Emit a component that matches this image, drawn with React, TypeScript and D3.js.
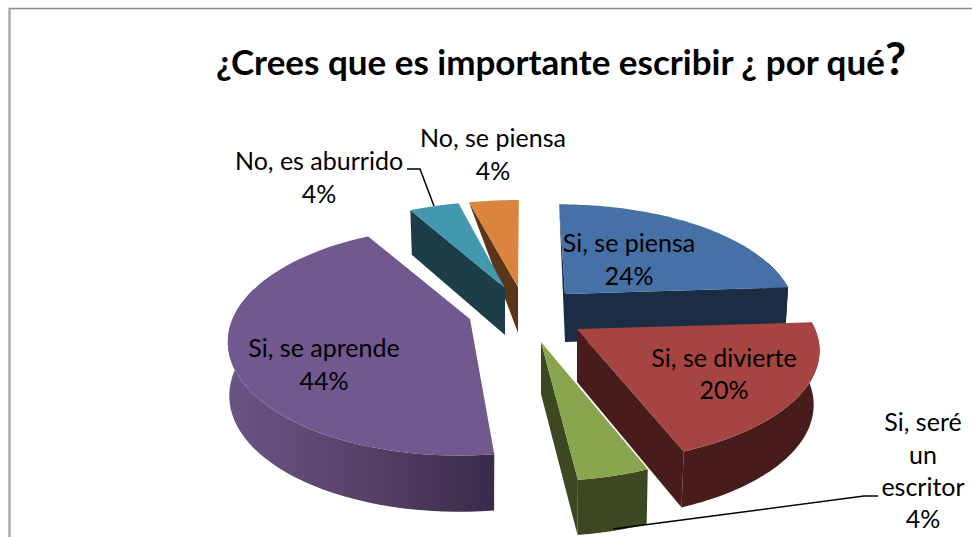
import React from 'react';
import * as d3 from 'd3';

const categories = ['Si, se piensa', 'Si, se divierte', 'Si, seré un escritor', 'Si, se aprende', 'No, es aburrido', 'No, se piensa'];
const percents = [24, 20, 4, 44, 4, 4];
const topColors = ['#4571A6', '#A64442', '#89A54E', '#71588F', '#4198AF', '#DB843D'];
const wallColors = ['#1B2D45', '#471C1B', '#3C4822', 'url(#purpleWall)', '#1B3E49', '#5A3518'];

// Exploded-slice placement of the 3D pie (apex on screen, lean, radius scales, wall height)
const apexX = [565, 577, 541, 470, 505, 518];
const apexY = [294, 329, 342, 319, 288, 287];
const leans = [-7, 0, 0, -9, 4, 1];
const radiusScale = [0.98, 1, 1, 0.96, 1, 1];
const radiusScaleY = [1, 1.01, 1.05, 1.03, 0.97, 0.97];
const wallHeights = [48, 53, 52, 53, 47, 46];
const wallInsets = [3, 6, 3, 1.5, 3, 3];
const startWalls = ['taper', 'none', 'none', 'none', 'full', 'taper'];
const endWalls = ['full', 'full', 'full', 'none', 'none', 'none'];
const drawOrder = [5, 4, 0, 3, 1, 2];

const RX = 238;
const RY = 107;
const PERSPECTIVE = 0.193;

const pieGen = d3.pie<number>().sort(null).startAngle(0).endAngle(2 * Math.PI);
const arcs = pieGen(percents);
const lineGen = d3.line<[number, number]>().x(d => d[0]).y(d => d[1]);

type P = [number, number];
function top(i: number, a: number): P {
  const u = Math.sin(a), v = Math.cos(a), f = 1 / (1 + PERSPECTIVE * v);
  return [apexX[i] + (leans[i] + RX * radiusScale[i] * u) * f, apexY[i] - RY * radiusScaleY[i] * v * f];
}
function bottom(i: number, a: number): P {
  const p = top(i, a), u = Math.sin(a), v = Math.cos(a);
  return [p[0] - wallInsets[i] * u, p[1] + wallHeights[i] * (1 + 0.06 * -v)];
}
function apexBottom(i: number): P {
  return [apexX[i], apexY[i] + wallHeights[i]];
}
const closed = (pts: P[]) => (lineGen(pts) as string) + 'Z';

function Slice({ i }: { i: number }) {
  const d = arcs[i];
  const angles = d3.range(0, 61).map(k => d.startAngle + ((d.endAngle - d.startAngle) * k) / 60);
  const apex: P = [apexX[i], apexY[i]];
  const arcPts = angles.map(a => top(i, a));
  const frontAngles = angles.filter(a => Math.cos(a) <= 0.32);
  const fill = wallColors[i];
  return (
    <g>
      {startWalls[i] === 'full' && <path d={closed([apex, apexBottom(i), bottom(i, d.startAngle), top(i, d.startAngle)])} fill={fill} />}
      {startWalls[i] === 'taper' && <path d={closed([apex, apexBottom(i), top(i, d.startAngle)])} fill={fill} />}
      {endWalls[i] === 'full' && <path d={closed([apex, apexBottom(i), bottom(i, d.endAngle), top(i, d.endAngle)])} fill={fill} />}
      {frontAngles.length > 1 && (
        <path d={closed([...frontAngles.map(a => top(i, a)), ...frontAngles.slice().reverse().map(a => bottom(i, a))])} fill={fill} />
      )}
      <path d={closed([apex, ...arcPts])} fill={topColors[i]} />
    </g>
  );
}

const FONT = 'Lato, "Open Sans", sans-serif';
const labelLines = [
  { t: 'Si, se piensa', x: 629, y: 252 },
  { t: '24%', x: 629, y: 285 },
  { t: 'Si, se divierte', x: 724, y: 367 },
  { t: '20%', x: 724, y: 399 },
  { t: 'Si, seré', x: 923, y: 431 },
  { t: 'un', x: 923, y: 464 },
  { t: 'escritor', x: 923, y: 496 },
  { t: '4%', x: 923, y: 528 },
  { t: 'Si, se aprende', x: 324, y: 357 },
  { t: '44%', x: 324, y: 390 },
  { t: 'No, es aburrido', x: 319, y: 170 },
  { t: '4%', x: 319, y: 203 },
  { t: 'No, se piensa', x: 493, y: 147 },
  { t: '4%', x: 493, y: 180 },
];

export default function App() {
  return (
    <svg width={972} height={537} viewBox="0 0 972 537" style={{ position: 'absolute', left: 0, top: 0, background: '#fff' }}>
      <defs>
        <linearGradient id="purpleWall" gradientUnits="userSpaceOnUse" x1={230} y1={0} x2={494} y2={0}>
          <stop offset="0" stopColor="#6A5386" />
          <stop offset="0.5" stopColor="#564268" />
          <stop offset="1" stopColor="#3B2A49" />
        </linearGradient>
      </defs>
      <path d="M9.5 537V8.5H972" fill="none" stroke="#8a8a8a" strokeWidth={1.5} />
      <path d="M9.5 537V9" fill="none" stroke="#b0b0b0" strokeWidth={2.5} />
      <text x={216} y={75} fontFamily={FONT} fontWeight={700} fontSize={35} fill="#000">
        ¿Crees que es importante escribir ¿ por qué<tspan fontSize={46}>?</tspan>
      </text>
      {drawOrder.map(i => <Slice key={categories[i]} i={i} />)}
      <path d="M407 169H420L434 206" fill="none" stroke="#000" strokeWidth={1.5} />
      <path d="M613 529L864 496H878" fill="none" stroke="#000" strokeWidth={1.5} />
      {labelLines.map((l, k) => (
        <text key={k} x={l.x} y={l.y} textAnchor="middle" fontFamily={FONT} fontSize={25} fill="#000">{l.t}</text>
      ))}
    </svg>
  );
}
